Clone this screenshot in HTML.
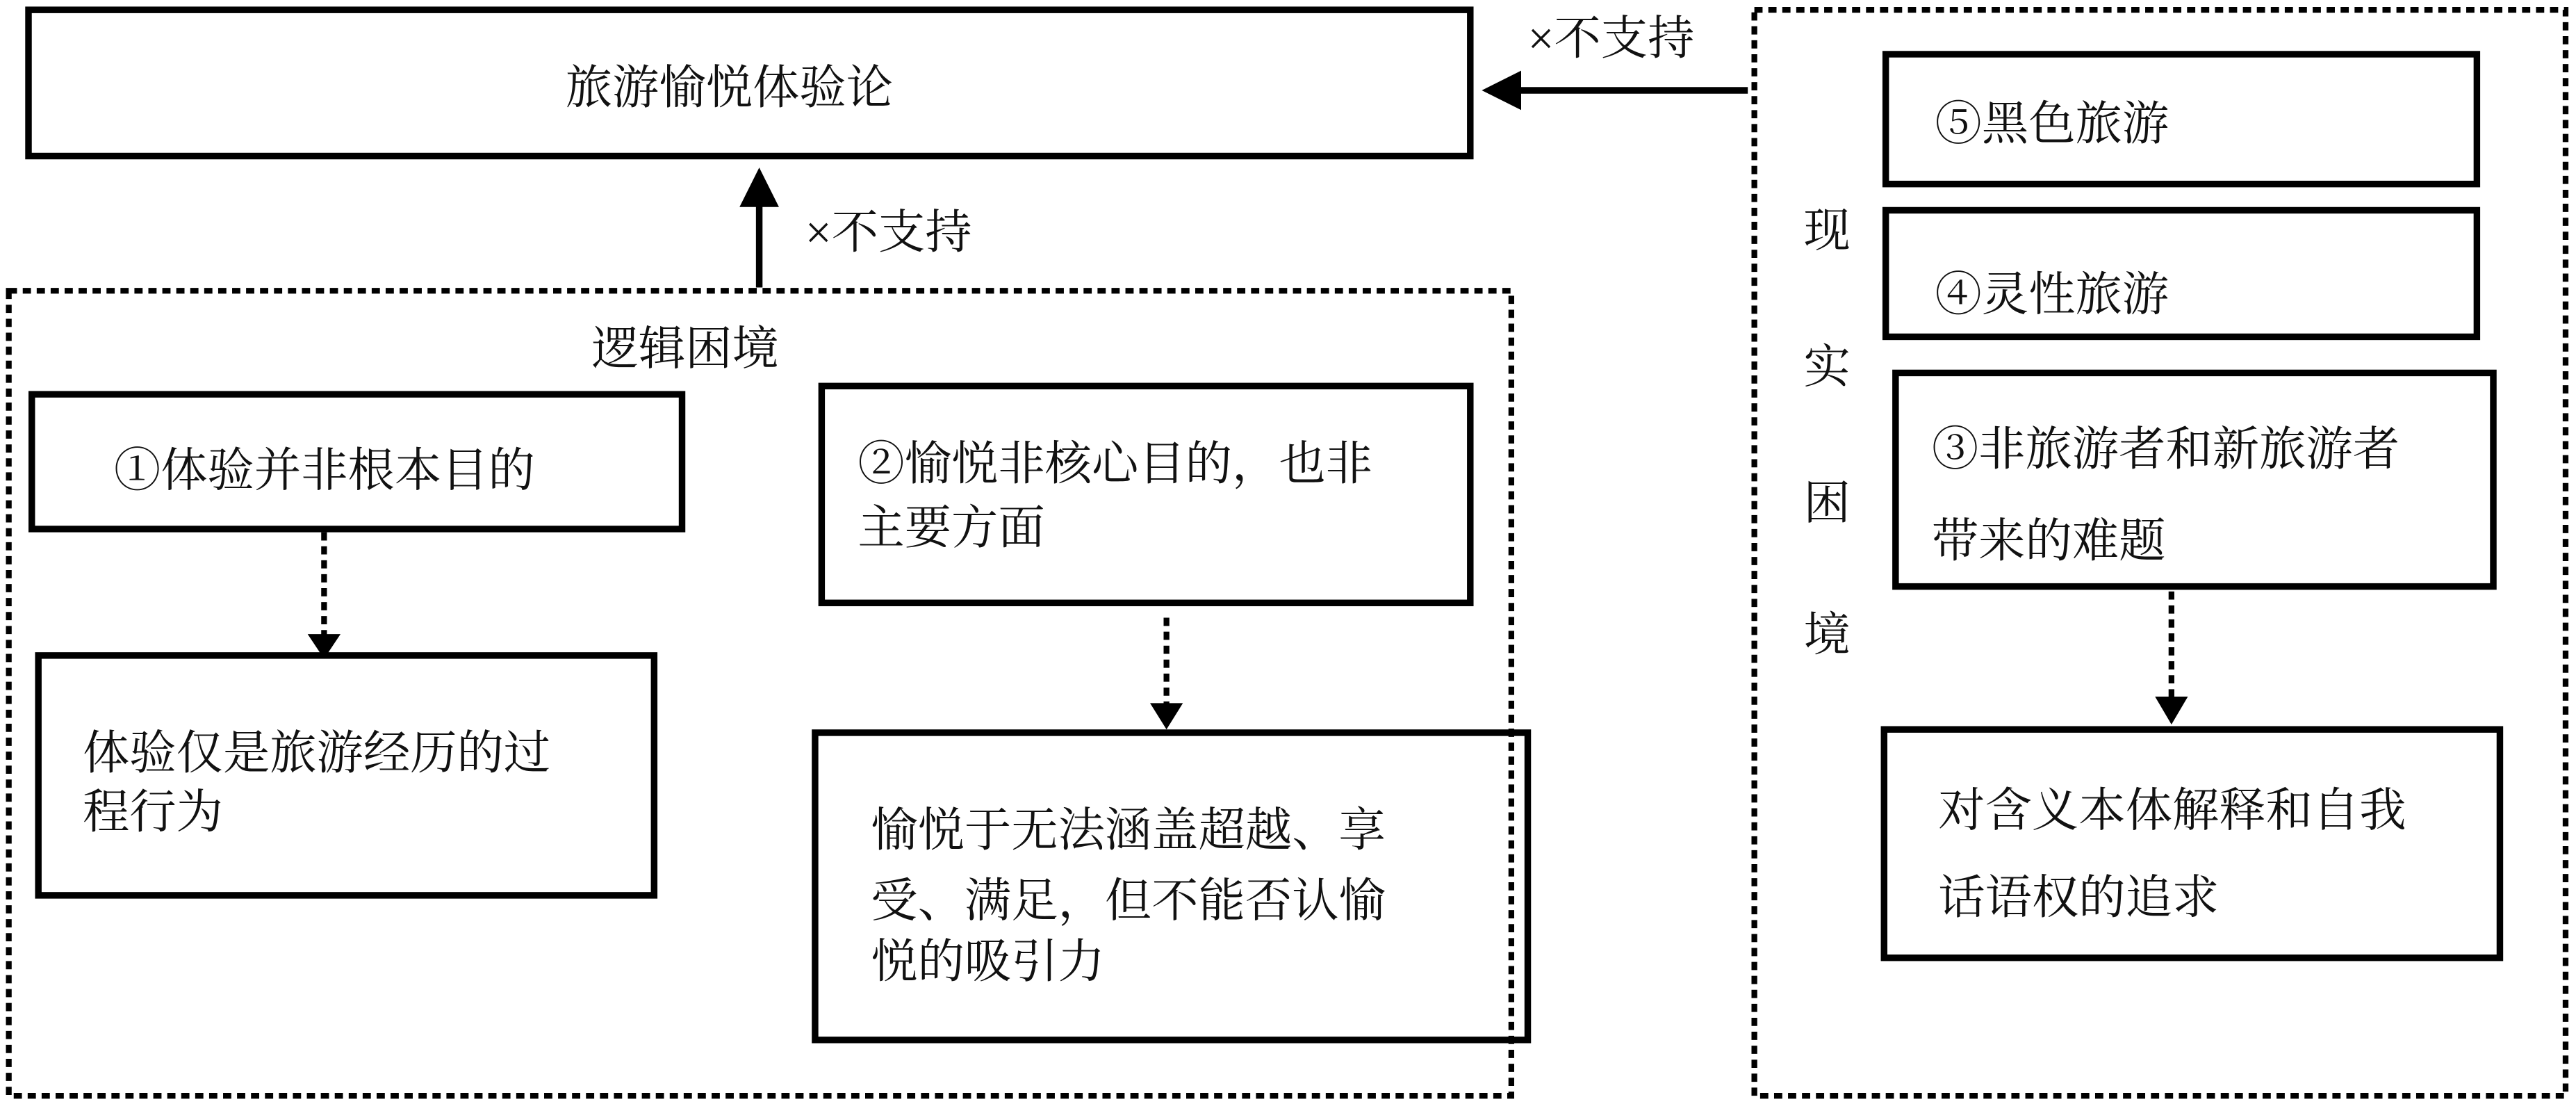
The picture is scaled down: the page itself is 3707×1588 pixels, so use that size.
<!DOCTYPE html>
<html><head><meta charset="utf-8"><style>
html,body{margin:0;padding:0;background:#fff}
svg{display:block}
text{font-family:"Liberation Serif","Noto Serif CJK SC",serif;font-size:28.5px;fill:#111}
</style></head><body>
<svg width="3707" height="1588" viewBox="0 0 1568 672" xmlns="http://www.w3.org/2000/svg">
<defs>
<marker id="ah" markerWidth="6" markerHeight="6" refX="5" refY="3" orient="auto" markerUnits="strokeWidth">
<path d="M0,0 L6,3 L0,6 z" fill="#000"/></marker>
</defs>
<g fill="none" stroke="#000">
<!-- top box -->
<rect x="17" y="6" width="878" height="89" stroke-width="4"/>
<!-- dotted containers -->
<rect x="5" y="177" width="915" height="490" stroke-width="3.5" stroke-dasharray="5,3.5"/>
<rect x="1068" y="6" width="494" height="661" stroke-width="3.5" stroke-dasharray="5,3.5"/>
<!-- logic boxes -->
<rect x="19" y="240" width="396" height="82" stroke-width="4"/>
<rect x="23" y="399" width="375" height="146" stroke-width="4"/>
<rect x="500" y="235" width="395" height="132" stroke-width="4"/>
<rect x="496" y="446" width="434" height="187" stroke-width="4"/>
<!-- reality boxes -->
<rect x="1148" y="33" width="360" height="79" stroke-width="4"/>
<rect x="1148" y="128" width="360" height="77" stroke-width="4"/>
<rect x="1154" y="227" width="364" height="130" stroke-width="4"/>
<rect x="1147" y="444" width="375" height="139" stroke-width="4"/>
<!-- solid arrows -->
<line x1="462" y1="175" x2="462" y2="106" stroke-width="4" marker-end="url(#ah)"/>
<line x1="1064" y1="55" x2="906" y2="55" stroke-width="4" marker-end="url(#ah)"/>
<!-- dotted arrows -->
<line x1="197" y1="324" x2="197" y2="388" stroke-width="3.5" stroke-dasharray="5,3.5"/>
<line x1="710" y1="376" x2="710" y2="432" stroke-width="3.5" stroke-dasharray="5,3.5"/>
<line x1="1322" y1="360" x2="1322" y2="428" stroke-width="3.5" stroke-dasharray="5,3.5"/>
</g>
<g fill="#000">
<path d="M187,386 L207,386 L197,401 z"/>
<path d="M700,428 L720,428 L710,444 z"/>
<path d="M1312,424 L1332,424 L1322,441 z"/>
</g>
<text x="344" y="63">旅游愉悦体验论</text>
<text x="490" y="151">×不支持</text>
<text x="930" y="33">×不支持</text>
<text x="360" y="222">逻辑困境</text>
<text x="69" y="296">①体验并非根本目的</text>
<text x="50" y="468">体验仅是旅游经历的过</text>
<text x="50" y="504">程行为</text>
<text x="522" y="292">②愉悦非核心目的，也非</text>
<text x="522" y="331">主要方面</text>
<text x="530" y="515">愉悦于无法涵盖超越、享</text>
<text x="530" y="558">受、满足，但不能否认愉</text>
<text x="530" y="595">悦的吸引力</text>
<text x="1098" y="150">现</text>
<text x="1098" y="233">实</text>
<text x="1098" y="316">困</text>
<text x="1098" y="396">境</text>
<text x="1178" y="85">⑤黑色旅游</text>
<text x="1178" y="189">④灵性旅游</text>
<text x="1176" y="283">③非旅游者和新旅游者</text>
<text x="1176" y="339">带来的难题</text>
<text x="1180" y="503">对含义本体解释和自我</text>
<text x="1180" y="556">话语权的追求</text>
</svg>
</body></html>
